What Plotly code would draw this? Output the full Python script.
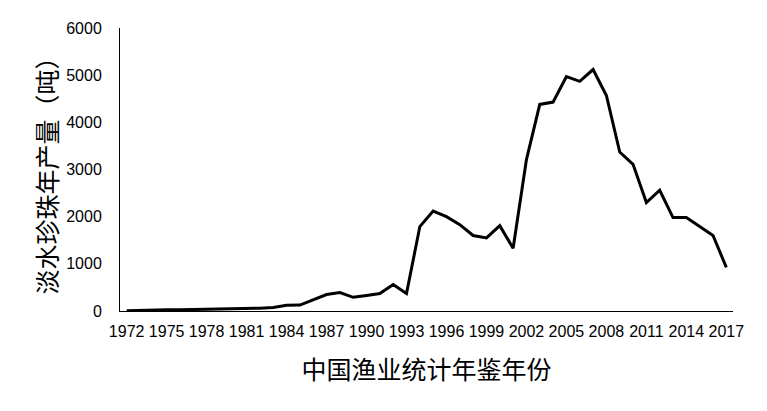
import plotly.graph_objects as go

years = list(range(1972, 2018))
output = [5, 15, 20, 25, 25, 30, 30, 40, 45, 55,
          60, 75, 120, 125, 230, 350, 390, 290, 330, 370,
          560, 370, 1790, 2120, 2000, 1830, 1600, 1550, 1810, 1330,
          3210, 4380, 4430, 4970, 4870, 5120, 4570, 3370, 3110, 2300,
          2560, 1980, 1980, 1790, 1600, 925]
x_ticks = list(range(1972, 2018, 3))
y_ticks = [0, 1000, 2000, 3000, 4000, 5000, 6000]

fig = go.Figure()
fig.add_trace(go.Scatter(x=years, y=output, mode='lines',
                         line=dict(color='black', width=3),
                         showlegend=False))

fig.update_xaxes(range=[1971.5, 2017.5],
                 tickvals=x_ticks,
                 ticktext=[str(t) for t in x_ticks],
                 showline=True, linecolor='black', linewidth=1,
                 showgrid=False, zeroline=False, ticks='',
                 ticklabelstandoff=6,
                 tickfont=dict(family='Liberation Sans', size=16, color='black'),
                 title=dict(text='中国渔业统计年鉴年份', standoff=22,
                            font=dict(family='Noto Sans CJK SC', size=25, color='black')))

fig.update_yaxes(range=[0, 6000],
                 tickvals=y_ticks,
                 showline=True, linecolor='black', linewidth=1,
                 showgrid=False, zeroline=False, ticks='',
                 ticklabelstandoff=14,
                 tickfont=dict(family='Liberation Sans', size=16, color='black'),
                 title=dict(text='淡水珍珠年产量（吨）', standoff=1,
                            font=dict(family='Noto Sans CJK SC', size=25, color='black')))

# page body adds an 8px offset, so margins are shifted accordingly
fig.update_layout(width=767, height=411,
                  plot_bgcolor='white', paper_bgcolor='white',
                  margin=dict(l=112, r=42, t=15, b=108))

fig.write_html("out.html")
